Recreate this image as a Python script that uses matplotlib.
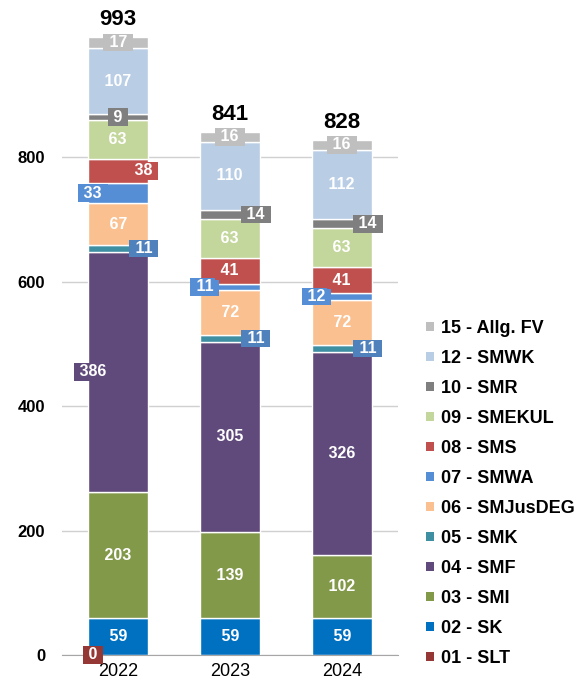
import numpy as np
import matplotlib.pyplot as plt
from matplotlib.patches import Patch

plt.rcParams['font.family'] = ['Liberation Sans', 'DejaVu Sans']

# Data
years = ["2022", "2023", "2024"]
series = ["01 - SLT", "02 - SK", "03 - SMI", "04 - SMF", "05 - SMK", "06 - SMJusDEG",
          "07 - SMWA", "08 - SMS", "09 - SMEKUL", "10 - SMR", "12 - SMWK", "15 - Allg. FV"]
slt = [0, None, None]
sk = [59, 59, 59]
smi = [203, 139, 102]
smf = [386, 305, 326]
smk = [11, 11, 11]
smjus = [67, 72, 72]
smwa = [33, 11, 12]
sms = [38, 41, 41]
smekul = [63, 63, 63]
smr = [9, 14, 14]
smwk = [107, 110, 112]
allg = [17, 16, 16]
totals = [993, 841, 828]

values = [slt, sk, smi, smf, smk, smjus, smwa, sms, smekul, smr, smwk, allg]
colors = ["#953735", "#0070C0", "#82994A", "#604A7B", "#3F8FA3", "#FAC090",
          "#558ED5", "#C0504D", "#C3D69B", "#7F7F7F", "#B9CDE5", "#BFBFBF"]
# label boxes that do not use the segment colour
label_colors = {"05 - SMK": "#4F81BD"}

# label placement per series and year: c = centre, l = left edge, r = right edge
placement = {
    "01 - SLT": ["l", None, None],
    "04 - SMF": ["l", "c", "c"],
    "05 - SMK": ["r", "r", "r"],
    "07 - SMWA": ["l", "l", "l"],
    "08 - SMS": ["r", "c", "c"],
    "10 - SMR": ["c", "r", "r"],
}

fig = plt.figure(figsize=(5.82, 6.84), dpi=100)
ax = fig.add_axes([0.1065, 0.0424, 0.5773, 0.9096])

x = np.arange(len(years))
width = 0.54
bottom = np.zeros(len(years))
for name, vals, col in zip(series, values, colors):
    v = np.array([0 if a is None else a for a in vals], dtype=float)
    ax.bar(x, v, width, bottom=bottom, color=col, edgecolor="white", linewidth=1, zorder=2)
    box_col = label_colors.get(name, col)
    for i, a in enumerate(vals):
        if a is None:
            continue
        pos = placement.get(name, ["c", "c", "c"])[i]
        yc = bottom[i] + v[i] / 2
        if pos == "l":
            xc = x[i] - width / 2 + 0.045
        elif pos == "r":
            xc = x[i] + width / 2 - 0.04
        else:
            xc = x[i]
        ax.text(xc, yc, " %d " % a, ha="center", va="center", color="white",
                fontsize=11.5, fontweight="bold", zorder=4,
                bbox=dict(boxstyle="square,pad=0.08", fc=box_col, ec="none"))
    bottom += v

for i, t in enumerate(totals):
    ax.annotate(str(t), (x[i], bottom[i]), xytext=(0, 5), textcoords="offset points",
                ha="center", va="bottom", fontsize=16, fontweight="bold", zorder=4)

ax.set_xlim(-0.5, 2.5)
ax.set_ylim(0, 1000)
ax.set_yticks([0, 200, 400, 600, 800])
ax.set_xticks(x)
ax.set_xticklabels(years, fontsize=13)
for lab in ax.get_yticklabels():
    lab.set_fontweight("bold")
    lab.set_fontsize(12)
ax.tick_params(axis="y", length=0, pad=12)
ax.tick_params(axis="x", length=0, pad=6)
ax.grid(axis="y", color="#D0D0D0", linewidth=1, zorder=0)
for s in ["top", "right", "left"]:
    ax.spines[s].set_visible(False)
ax.spines["bottom"].set_color("#A6A6A6")

handles = [Patch(facecolor=c, edgecolor="none", label=n) for n, c in zip(series, colors)][::-1]
fig.legend(handles=handles, loc="upper left", bbox_to_anchor=(426 / 582, 1 - 320 / 684),
           frameon=False, prop={"weight": "bold", "size": 13},
           handlelength=0.45, handleheight=0.45, handletextpad=0.4, labelspacing=0.72,
           borderaxespad=0, borderpad=0)

fig.savefig("out.png", dpi=100)
